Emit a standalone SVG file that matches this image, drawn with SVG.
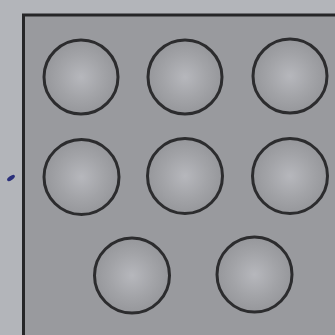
<svg xmlns="http://www.w3.org/2000/svg" width="335" height="335" viewBox="0 0 335 335">
<defs>
<radialGradient id="g" cx="50%" cy="50%" r="50%">
<stop offset="0" stop-color="#b6b7bc"/>
<stop offset="0.6" stop-color="#a2a3a7"/>
<stop offset="1" stop-color="#96979b"/>
</radialGradient>
<style>
.c{fill:url(#g);stroke:#2c2c2e;stroke-width:3}
</style>
</defs>
<rect x="0" y="0" width="335" height="335" fill="#b3b5ba"/>
<rect id="plate" x="23.5" y="15" width="330" height="330" fill="#999a9e" stroke="#262628" stroke-width="3"/>
<ellipse cx="11" cy="178" rx="4.5" ry="2" fill="#2a2f7a" transform="rotate(-35 11 178)"/>
<g id="c1"><circle class="c" cx="81" cy="77" r="37"/></g>
<g id="c2"><circle class="c" cx="185" cy="77" r="37"/></g>
<g id="c3"><circle class="c" cx="290" cy="76" r="37"/></g>
<g id="c4"><circle class="c" cx="81.5" cy="177" r="37.5"/></g>
<g id="c5"><circle class="c" cx="185" cy="176" r="37.5"/></g>
<g id="c6"><circle class="c" cx="290" cy="176" r="37.5"/></g>
<g id="c7"><circle class="c" cx="132" cy="275.5" r="37.5"/></g>
<g id="c8"><circle class="c" cx="254.5" cy="274.5" r="37.5"/></g>
<g id="connectors"></g>
</svg>
